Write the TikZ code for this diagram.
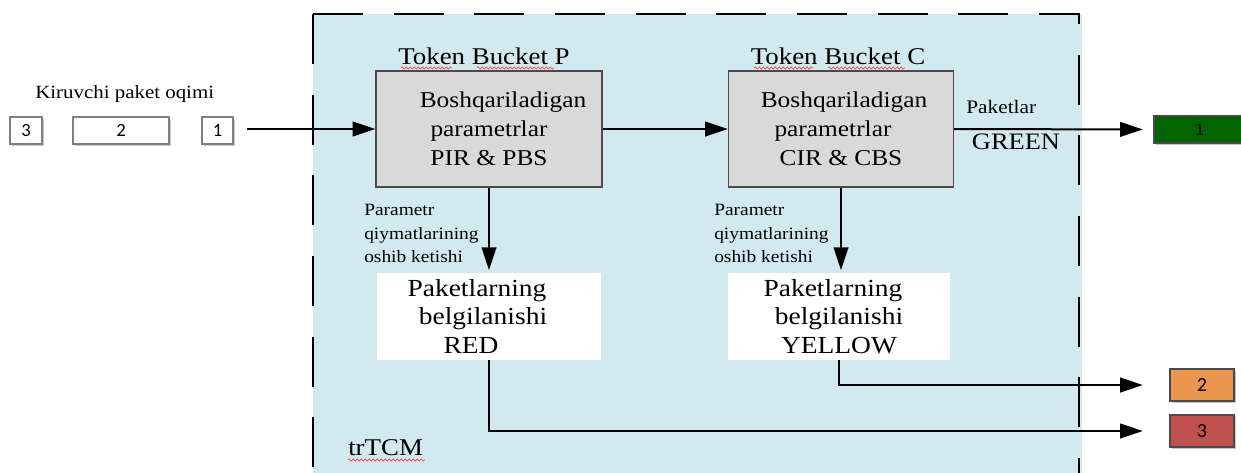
\documentclass[tikz,border=0pt]{standalone}
\usepackage{fontspec}
\setmainfont{Liberation Serif}[FakeStretch=1.12]
\newfontfamily\digitfont{Carlito}
\usetikzlibrary{arrows.meta,decorations.pathmorphing,shadows}

\definecolor{panelblue}{HTML}{D2E9F0}
\definecolor{boxgray}{HTML}{D9D9D9}
\definecolor{boxedge}{HTML}{4A4A4A}
\definecolor{pktgreen}{HTML}{006400}
\definecolor{pktorange}{HTML}{EA964F}
\definecolor{pktred}{HTML}{C0504D}

\tikzset{
  bucket/.style={draw=boxedge, fill=boxgray, line width=1pt, minimum width=169.5pt,
    minimum height=87pt, align=center, inner sep=0pt, font=\fontsize{17}{21.75}\selectfont},
  markbox/.style={fill=white, minimum width=168pt, minimum height=65.25pt, align=center,
    inner sep=0pt, font=\fontsize{18.4}{21.4}\selectfont},
  flow/.style={line width=1.5pt, -{Triangle[length=17pt,width=11pt]}},
  frame/.style={line width=2.2pt, dash pattern=on 37.5pt off 23pt},
  softshadow/.style={drop shadow={shadow xshift=1.2pt, shadow yshift=-1.2pt, fill=black!22, opacity=1}},
  outbox/.style={draw=boxedge, line width=0.8pt, minimum width=48pt, minimum height=24pt,
    inner sep=0pt, softshadow, font=\digitfont\fontsize{15}{15}\selectfont},
  pktbox/.style={draw=gray, line width=0.8pt, minimum height=20.25pt, inner sep=0pt,
    fill=white, softshadow, font=\digitfont\fontsize{14}{14}\selectfont},
  note/.style={inner sep=0pt, align=left, font=\fontsize{13}{17.6}\selectfont},
  title/.style={inner sep=0pt, font=\fontsize{18}{18}\selectfont},
  spell/.style={red!75, line width=0.5pt, decorate,
    decoration={snake, amplitude=0.9pt, segment length=3pt}}
}

\begin{document}
\begin{tikzpicture}[x=0.75pt,y=-0.75pt]
  \useasboundingbox (0,0) rectangle (1241,472);
  \clip (0,0) rectangle (1241,472);

  % trTCM panel
  \fill[panelblue] (313,14) rectangle (1082,480);
  \draw[frame] (313,14) -- (313,480);
  \draw[frame] (313,14) -- (1079,14) -- (1079,480);

  % incoming packet stream
  \node[anchor=base west, inner sep=0pt, font=\fontsize{14}{14}\selectfont] (kp) at (35,98) {Kiruvchi paket oqimi};
  \node[pktbox, minimum width=24pt] (p3) at (26,130.5) {3};
  \node[pktbox, minimum width=72pt] (p2) at (121,130.5) {2};
  \node[pktbox, minimum width=23.25pt] (p1) at (217.5,130.5) {1};
  \coordinate (src) at (247,129);

  % token buckets
  \node[title, anchor=base] (tbp) at (484,64) {Token Bucket P};
  \node[title, anchor=base] (tbc) at (838,64) {Token Bucket C};
  \draw[spell] (401,68) -- (452,68);
  \draw[spell] (477,68) -- (554,68);
  \draw[spell] (754,68) -- (813,68);
  \draw[spell] (828,68) -- (905,68);

  \node[bucket] (bp) at (489,129) {\hspace*{21pt}Boshqariladigan\\parametrlar\\PIR \& PBS};
  \node[bucket, minimum width=168.75pt] (bc) at (841,129) {\hspace*{4.5pt}Boshqariladigan\\parametrlar\hspace*{12pt}\null\\CIR \& CBS};

  % marking results
  \node[markbox] (mp) at (489,316.5) {Paketlarning\hspace*{18pt}\null\\belgilanishi\hspace*{9pt}\null\\RED\hspace*{27pt}\null};
  \node[markbox, minimum width=166.5pt] (mc) at (839,316.5) {Paketlarning\hspace*{9pt}\null\\belgilanishi\\YELLOW};

  \node[note, anchor=north west] (ovp) at (364,204) {Parametr\\qiymatlarining\\oshib ketishi};
  \node[note, anchor=north west] (ovc) at (714,204) {Parametr\\qiymatlarining\\oshib ketishi};

  \node[anchor=base west, inner sep=0pt, font=\fontsize{14.3}{14.3}\selectfont] (pk) at (966,113) {Paketlar};
  \node[anchor=base, inner sep=0pt, font=\fontsize{17.7}{17.7}\selectfont] (gr) at (1016,149) {GREEN};

  \node[anchor=base west, title] (tr) at (348,455) {trTCM};
  \draw[spell] (348,460) -- (425,460);

  % output colour classes
  \node[draw=boxedge, line width=0.8pt, fill=pktgreen, minimum width=69pt, minimum height=20.25pt,
        inner sep=0pt, softshadow, font=\fontsize{13.5}{13.5}\selectfont] (g) at (1200,129.5) {1};
  \node[outbox, fill=pktorange] (o) at (1202,385) {2};
  \node[outbox, fill=pktred] (r) at (1202,431) {3};

  % connectors
  \draw[flow] (src) -- (bp.west);
  \draw[flow] (bp.east) -- (bc.west);
  \draw[flow, shorten >=8pt] (bc.east) -- (g.west);
  \draw[flow, shorten >=2pt] (bp.south) -- (mp.north);
  \draw[flow, shorten >=2pt] (bc.south) -- (bc.south |- mc.north);
  \draw[flow, shorten >=20pt] (mc.south) |- (o.west);
  \draw[flow, shorten >=20pt] (mp.south) |- (r.west);
\end{tikzpicture}
\end{document}
